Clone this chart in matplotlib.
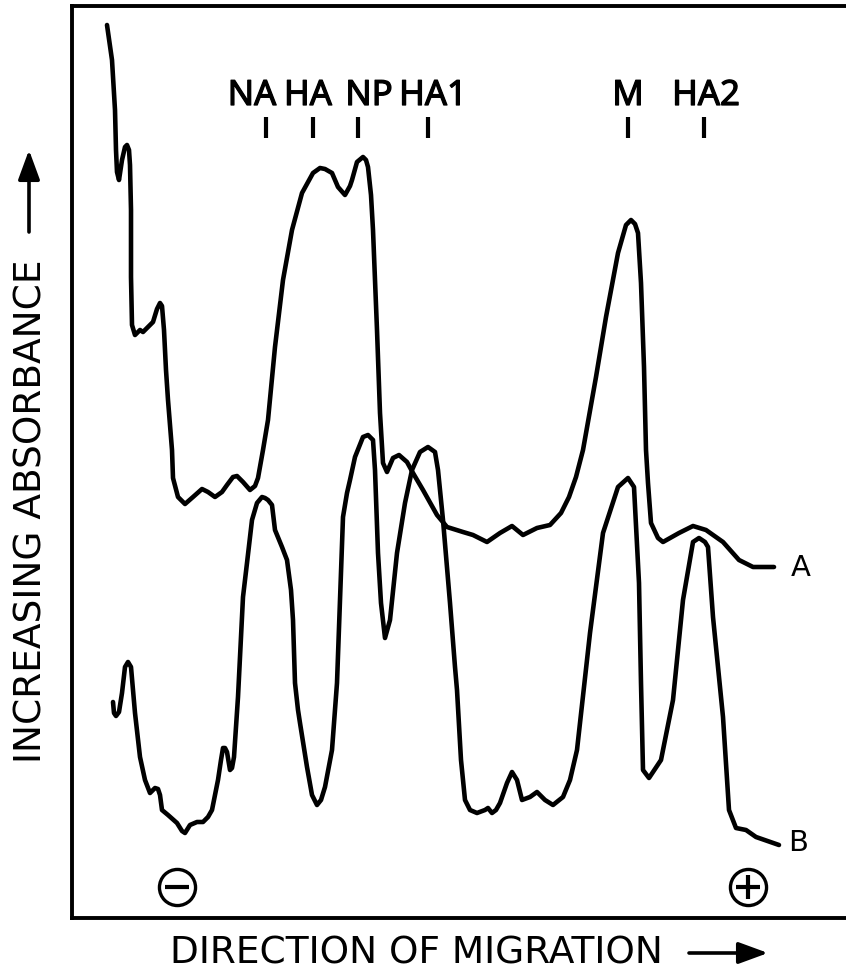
"""Densitometer scans of two samples after electrophoresis (curves A and B)."""

import matplotlib
matplotlib.use('Agg')
import matplotlib.pyplot as plt
import matplotlib.patheffects as pe
from matplotlib.font_manager import FontProperties, findfont
from matplotlib.patches import FancyArrowPatch
from matplotlib.textpath import TextPath

W, H = 846, 973

# Scan A: migration distance vs absorbance (arbitrary units)
a_dist = [35, 40, 43, 44, 45, 47, 50, 53, 55, 57,
          58, 59, 59, 60, 63, 68, 71, 76, 81, 85,
          88, 90, 92, 94, 96, 100, 101, 106, 113, 121,
          130, 136, 143, 150, 155, 161, 165, 171, 178, 183,
          186, 191, 196, 203, 211, 220, 230, 241, 248, 253,
          260, 266, 273, 278, 280, 285, 291, 294, 296, 299,
          301, 305, 308, 311, 315, 321, 327, 335, 341, 351,
          365, 375, 391, 401, 415, 428, 440, 451, 465, 478,
          489, 497, 504, 511, 524, 534, 546, 554, 559, 563,
          566, 569, 572, 574, 576, 579, 586, 591, 607, 621,
          634, 651, 667, 681, 702]
a_abs = [893, 858, 808, 768, 746, 738, 758, 771, 773, 768,
         753, 708, 641, 593, 583, 588, 586, 591, 596, 609,
         615, 612, 588, 548, 518, 468, 440, 421, 414, 421,
         429, 426, 421, 426, 433, 441, 442, 436, 428, 432,
         440, 468, 498, 571, 638, 688, 725, 745, 750, 749,
         745, 731, 723, 732, 738, 756, 761, 758, 751, 723,
         688, 588, 505, 455, 446, 460, 463, 456, 445, 428,
         403, 391, 386, 383, 376, 385, 392, 383, 390, 393,
         405, 421, 441, 468, 541, 601, 665, 693, 698, 694,
         685, 635, 551, 468, 435, 395, 380, 376, 385, 392,
         388, 376, 358, 351, 351]

# Scan B
b_dist = [41, 42, 44, 47, 50, 53, 56, 59, 61, 63,
          68, 73, 78, 81, 83, 86, 88, 90, 96, 105,
          110, 113, 118, 125, 131, 136, 140, 146, 149, 151,
          153, 155, 158, 160, 162, 166, 171, 175, 180, 185,
          190, 193, 196, 200, 203, 210, 215, 219, 221, 223,
          226, 228, 235, 240, 245, 249, 253, 260, 265, 271,
          275, 278, 283, 291, 296, 301, 303, 306, 309, 313,
          318, 325, 333, 340, 348, 356, 363, 366, 371, 378,
          383, 385, 389, 393, 398, 405, 413, 416, 420, 424,
          428, 435, 440, 445, 450, 458, 465, 473, 481, 491,
          498, 505, 518, 531, 546, 556, 562, 567, 569, 571,
          577, 589, 601, 611, 621, 627, 633, 636, 641, 651,
          657, 664, 674, 684, 707]
b_abs = [216, 205, 202, 206, 225, 251, 256, 251, 228, 205,
         161, 138, 125, 128, 130, 129, 123, 108, 103, 95,
         87, 85, 93, 96, 96, 101, 108, 138, 158, 170,
         170, 166, 148, 150, 161, 221, 321, 355, 398, 415,
         421, 420, 418, 413, 388, 371, 358, 328, 298, 235,
         208, 195, 151, 123, 113, 118, 131, 168, 235, 401,
         425, 438, 461, 481, 483, 478, 448, 365, 315, 280,
         298, 365, 415, 448, 466, 471, 466, 448, 398, 315,
         251, 228, 158, 118, 108, 105, 108, 110, 105, 108,
         115, 135, 146, 138, 118, 121, 126, 118, 113, 121,
         138, 168, 285, 385, 431, 440, 431, 335, 235, 148,
         140, 158, 218, 318, 376, 380, 376, 371, 301, 201,
         108, 90, 88, 81, 73]

# Protein band markers along the top
peak_names = ['NA', 'HA', 'NP', 'HA1', 'M', 'HA2']
peak_ticks = [194, 241, 286, 356, 556, 632]
peak_label_x = [180, 236, 297, 361, 556, 634]


def narrow_bold_font(size):
    """Pick the narrowest bold sans face that is installed."""
    options = [('Liberation Sans Narrow', 'normal'), ('Noto Sans', 'condensed'),
               ('DejaVu Sans', 'condensed'), ('Roboto', 'condensed'),
               ('Open Sans', 'condensed'), ('Roboto', 'normal'), ('Lato', 'normal')]
    best, best_w = None, None
    for family, stretch in options:
        fp = FontProperties(family=family, stretch=stretch, weight='bold', size=size)
        try:
            path = findfont(fp, fallback_to_default=False)
        except ValueError:
            continue
        fp = FontProperties(fname=path, size=size)
        ext = TextPath((0, 0), 'HA2', prop=fp).get_extents()
        ratio = ext.width / ext.height
        if best_w is None or ratio < best_w:
            best, best_w = fp, ratio
    return best if best is not None else FontProperties(weight='bold', size=size)


fig = plt.figure(figsize=(W / 100, H / 100), dpi=100)
ax = fig.add_axes([72 / W, 55 / H, 788 / W, 912 / H])
ax.set_xlim(0, 788)
ax.set_ylim(0, 912)

line_kw = dict(color='black', lw=3.3, solid_joinstyle='round', solid_capstyle='round')
ax.plot(a_dist, a_abs, **line_kw)
ax.plot(b_dist, b_abs, **line_kw)

# Band markers (a light stroke gives the condensed face a heavier look)
label_font = narrow_bold_font(25)
heavy = [pe.withStroke(linewidth=0.9, foreground='black')]
for name, xt, xl in zip(peak_names, peak_ticks, peak_label_x):
    ax.plot([xt, xt], [780, 801], color='black', lw=3.0, solid_capstyle='butt')
    ax.text(xl, 813, name, ha='center', va='baseline', fontproperties=label_font,
            path_effects=heavy)

# Curve labels
ax.text(729, 350, 'A', ha='center', va='center', fontsize=21)
ax.text(726, 75, 'B', ha='center', va='center', fontsize=21)

# Electrode signs
for xc, sign in [(105, '_'), (676, '+')]:
    ax.plot(xc, 31, marker='o', ms=26, mfc='none', mec='black', mew=2.4)
    ax.plot(xc, 31, marker=sign, ms=17, mec='black', mew=3.0)

for side in ['left', 'bottom', 'top']:
    ax.spines[side].set_linewidth(2.8)
ax.spines['right'].set_visible(False)
ax.set_xticks([])
ax.set_yticks([])

# Axis captions with arrows
fig.text(416 / W, 1 - 964 / H, 'DIRECTION OF MIGRATION', ha='center', va='baseline',
         fontsize=27)
fig.text(32 / W, 1 - 511 / H, 'INCREASING ABSORBANCE', ha='center', va='center',
         rotation=90, fontsize=27)
arrow_kw = dict(arrowstyle='-|>,head_length=0.6,head_width=0.22', lw=2.6, color='black',
                mutation_scale=30, shrinkA=0, shrinkB=0, transform=fig.transFigure)
fig.patches.append(FancyArrowPatch((689 / W, 1 - 953 / H), (768 / W, 1 - 953 / H), **arrow_kw))
fig.patches.append(FancyArrowPatch((29 / W, 1 - 232 / H), (29 / W, 1 - 150 / H), **arrow_kw))

fig.savefig('out.png', dpi=100)
